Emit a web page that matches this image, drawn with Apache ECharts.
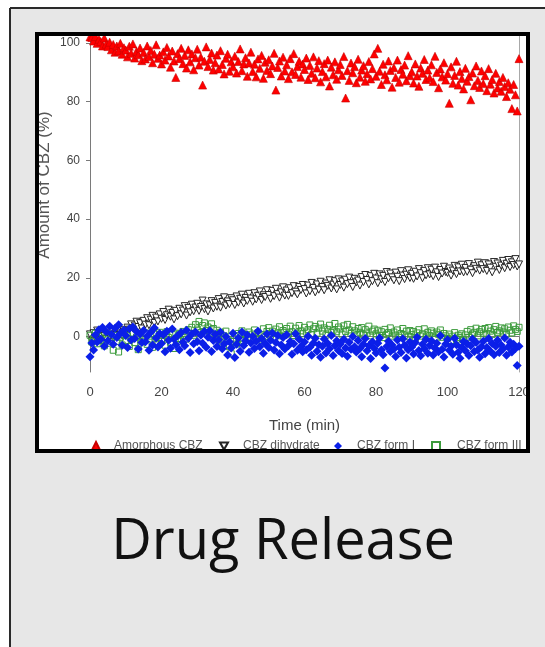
<!DOCTYPE html>
<html><head><meta charset="utf-8">
<script src="https://cdn.jsdelivr.net/npm/echarts@6/dist/echarts.min.js"></script>
<style>html,body{margin:0;padding:0;background:#fff}#c{width:545px;height:647px}</style>
</head><body><div id="c"></div>
<script>
const timeMin = [
0,0.5,1,1.5,2,2.5,3,3.5,4,4.5,
5,5.5,6,6.5,7,7.5,8,8.5,9,9.5,
10,10.5,11,11.5,12,12.5,13,13.5,14,14.5,
15,15.5,16,16.5,17,17.5,18,18.5,19,19.5,
20,20.5,21,21.5,22,22.5,23,23.5,24,24.5,
25,25.5,26,26.5,27,27.5,28,28.5,29,29.5,
30,30.5,31,31.5,32,32.5,33,33.5,34,34.5,
35,35.5,36,36.5,37,37.5,38,38.5,39,39.5,
40,40.5,41,41.5,42,42.5,43,43.5,44,44.5,
45,45.5,46,46.5,47,47.5,48,48.5,49,49.5,
50,50.5,51,51.5,52,52.5,53,53.5,54,54.5,
55,55.5,56,56.5,57,57.5,58,58.5,59,59.5,
60,60.5,61,61.5,62,62.5,63,63.5,64,64.5,
65,65.5,66,66.5,67,67.5,68,68.5,69,69.5,
70,70.5,71,71.5,72,72.5,73,73.5,74,74.5,
75,75.5,76,76.5,77,77.5,78,78.5,79,79.5,
80,80.5,81,81.5,82,82.5,83,83.5,84,84.5,
85,85.5,86,86.5,87,87.5,88,88.5,89,89.5,
90,90.5,91,91.5,92,92.5,93,93.5,94,94.5,
95,95.5,96,96.5,97,97.5,98,98.5,99,99.5,
100,100.5,101,101.5,102,102.5,103,103.5,104,104.5,
105,105.5,106,106.5,107,107.5,108,108.5,109,109.5,
110,110.5,111,111.5,112,112.5,113,113.5,114,114.5,
115,115.5,116,116.5,117,117.5,118,118.5,119,119.5,
120];

const amorphousCBZ = [
102.0,101.8,100.6,102.1,99.8,101.2,100.4,98.9,101.6,99.5,
98.7,100.2,97.6,99.4,96.8,98.9,97.2,99.8,96.1,98.3,
97.5,95.2,98.8,96.4,99.6,94.8,97.1,95.9,98.2,93.9,
96.7,94.5,98.9,95.3,97.4,93.2,96.1,99.3,94.7,95.8,
92.8,96.9,94.1,98.4,95.5,91.7,97.2,93.8,88.2,96.3,
94.6,98.1,92.9,95.7,91.4,97.6,93.5,96.2,90.8,94.9,
97.8,92.4,95.1,85.6,93.7,98.6,91.9,94.3,96.5,90.7,
93.2,95.8,91.1,97.3,92.6,89.4,94.7,96.1,90.3,93.5,
91.8,95.4,89.7,93.6,97.9,90.5,92.8,94.9,88.6,93.1,
96.8,90.2,92.7,88.4,94.5,91.3,95.7,87.9,93.4,90.6,
94.2,89.5,92.1,96.4,83.9,91.6,93.8,88.7,95.1,90.4,
92.5,87.8,94.6,90.1,96.3,89.2,91.9,93.7,88.3,92.8,
90.9,94.8,87.5,92.3,89.6,95.2,88.1,91.4,93.9,86.7,
90.2,92.9,88.4,94.1,85.3,91.7,89.1,93.5,87.6,90.8,
92.6,88.9,95.3,81.2,90.5,87.2,93.1,89.8,91.9,86.4,
94.4,88.3,90.7,92.2,86.9,89.5,93.6,87.7,91.2,96.2,
88.6,98.1,90.3,85.8,92.7,89.1,87.4,93.8,90.6,84.9,
91.5,88.2,94.1,86.6,90.9,89.3,92.4,87.1,95.6,88.8,
90.1,86.3,92.8,88.7,85.2,91.4,89.6,94.3,87.5,90.7,
88.1,92.5,86.8,95.4,89.9,84.7,91.1,88.4,93.2,87.3,
89.5,79.4,91.8,86.2,88.9,93.7,85.6,90.2,87.8,84.3,
91.3,86.9,88.5,80.6,89.7,85.4,92.1,87.2,84.8,90.4,
86.1,88.8,83.7,91.2,85.9,87.5,82.9,89.6,84.6,86.8,
83.5,88.2,85.1,81.7,86.4,84.2,77.6,85.8,82.3,76.8,
94.6];

const cbzDihydrate = [
0.8,-1.5,1.2,-0.4,2.1,0.3,-1.1,1.6,0.2,-0.7,
1.4,0.1,2.3,-0.5,1.8,0.6,2.7,1.1,0.4,2.2,
1.7,3.1,2.4,4.2,2.9,3.8,5.1,3.3,4.6,2.8,
5.4,4.1,6.3,3.9,5.8,7.1,4.7,6.5,5.2,7.6,
6.1,8.4,5.7,7.3,9.2,6.8,8.1,5.9,8.8,7.0,
9.5,7.6,8.9,10.4,7.2,9.8,8.3,10.9,8.7,9.9,
11.2,8.8,10.1,12.3,9.4,11.0,8.6,10.7,12.1,9.6,
11.5,10.2,12.8,9.9,11.8,13.4,10.6,12.0,11.1,13.1,
12.4,10.8,13.7,11.6,12.9,14.3,11.3,13.2,12.2,14.6,
13.0,11.9,14.8,12.7,13.9,15.4,12.5,14.1,13.5,15.8,
14.2,12.9,15.6,13.8,16.3,14.5,13.3,15.1,16.8,14.0,
15.7,13.9,16.5,14.8,17.2,15.3,14.4,16.9,15.9,17.6,
16.2,14.7,17.4,15.5,18.3,16.6,15.1,17.8,16.0,18.7,
16.9,15.8,18.1,17.3,19.2,16.4,17.7,18.9,16.1,19.5,
17.6,18.8,16.7,19.4,17.9,20.1,18.2,16.9,19.7,18.5,
19.1,17.4,20.3,18.6,21.0,19.3,17.8,20.6,18.9,21.4,
19.8,18.2,21.2,19.5,20.7,18.6,22.0,19.9,21.5,20.2,
19.2,21.8,20.4,18.9,22.3,20.8,19.6,21.1,22.6,20.0,
21.4,19.7,22.1,20.5,23.0,21.6,19.9,22.4,20.9,23.3,
21.2,22.8,20.6,23.5,21.9,20.3,22.7,21.5,23.8,22.0,
21.7,23.2,20.8,22.5,24.1,21.3,23.6,22.2,24.5,21.9,
23.4,22.1,24.7,22.8,21.6,24.0,23.1,25.2,22.5,24.3,
23.0,25.0,22.4,24.6,23.5,21.9,25.4,23.8,24.9,22.7,
24.2,25.8,23.3,24.8,26.1,23.7,25.3,24.4,26.4,23.9,
24.6];

const cbzFormI = [
-6.8,-2.1,-4.5,0.6,-1.8,2.4,-0.9,3.1,-3.2,1.7,
-1.4,3.6,0.8,-2.6,2.9,-0.3,4.1,1.2,-2.9,2.3,
0.4,-3.7,2.7,-1.1,3.3,-0.6,1.8,-4.2,0.9,-2.0,
2.1,-1.7,0.2,-4.6,1.5,-2.8,3.0,-0.4,-3.5,1.1,
-2.3,0.7,-5.1,1.9,-1.2,-3.9,2.6,-0.8,-2.7,0.3,
-4.4,1.4,-1.9,-3.1,2.2,-0.5,-5.4,0.9,-2.4,1.6,
-1.6,-4.8,0.5,-2.2,1.8,-3.6,-0.2,2.0,-5.0,-1.3,
0.8,-3.3,-1.0,1.5,-4.1,-2.5,0.1,-6.2,-1.7,-3.8,
1.2,-7.1,-2.6,-0.4,-4.9,1.6,-3.0,-1.4,0.6,-5.3,
-2.1,0.2,-4.0,-1.5,1.9,-3.4,-0.6,-5.6,-2.3,0.9,
-3.7,-1.2,1.3,-4.5,-2.0,0.4,-5.8,-2.8,-0.3,-4.2,
0.7,-3.1,-1.6,-6.0,-2.4,1.0,-4.6,-0.9,-3.3,-5.1,
-1.8,-4.4,0.2,-3.6,-6.3,-2.1,-0.5,-4.9,-2.7,-7.0,
-3.2,-0.8,-5.5,-2.3,-4.1,0.4,-6.4,-3.0,-1.4,-4.7,
-2.5,-5.7,-0.9,-3.8,-6.6,-1.9,-4.3,0.1,-3.4,-5.2,
-1.3,-4.0,-6.8,-2.6,-0.6,-4.8,-3.1,-7.4,-1.7,-3.9,
-5.5,-2.2,-0.4,-4.5,-6.1,-10.6,-3.3,-1.5,-5.0,-2.8,
-4.2,-6.7,-1.1,-3.6,-5.4,-0.7,-2.9,-7.2,-4.4,-1.8,
-3.5,-5.9,-2.0,-0.2,-4.7,-6.5,-2.6,-4.1,-0.9,-5.6,
-3.0,-1.4,-6.2,-3.9,-2.2,-5.1,0.3,-4.3,-6.9,-2.5,
-1.0,-4.6,-3.2,-6.0,-0.5,-2.7,-5.3,-7.3,-3.6,-1.6,
-4.8,-2.4,-6.4,-3.1,-0.8,-5.0,-2.0,-4.5,-7.0,-3.4,
-1.5,-5.8,-3.7,-0.6,-4.9,-2.3,-6.1,-3.2,-1.2,-5.4,
-2.8,-4.2,-0.4,-6.3,-3.5,-1.9,-5.2,-2.6,-4.0,-9.8,
-3.2];

const cbzFormIII = [
0.5,-1.8,-0.6,1.2,-2.4,0.1,-1.3,0.8,-3.1,-0.4,
1.0,-2.2,-0.9,-4.6,0.4,-1.6,-5.2,-0.2,-2.8,0.7,
-1.4,0.3,-3.3,-0.8,1.1,-2.0,-0.1,-4.4,0.6,-1.7,
-0.5,1.3,-2.6,-1.1,0.2,-3.6,0.9,-0.7,-2.3,1.5,
-1.0,0.4,-2.9,1.7,-0.3,-1.9,0.8,-4.0,1.2,-0.6,
0.9,-1.5,1.8,0.2,-0.8,2.4,1.1,3.2,0.5,4.1,
2.6,5.2,1.4,3.8,4.7,2.1,3.3,1.6,4.4,2.8,
0.7,2.2,-0.9,1.5,-2.1,0.3,1.9,-1.2,-3.4,-5.8,
-1.6,0.4,-2.5,1.1,-0.5,2.0,-1.3,0.8,-0.2,1.6,
-0.8,0.9,2.3,-0.4,1.4,-1.1,0.6,2.7,0.1,1.8,
3.1,0.5,1.9,-0.6,2.6,1.2,3.4,0.3,2.1,1.5,
2.8,0.9,3.6,1.7,0.4,2.9,1.3,3.8,2.0,1.0,
3.2,1.6,2.4,4.0,0.8,2.7,3.5,1.2,2.9,4.3,
1.9,3.0,0.6,2.5,3.9,1.4,2.2,4.5,1.7,3.3,
2.6,0.9,3.7,1.8,4.2,2.3,1.1,3.4,2.0,0.5,
2.8,1.5,3.1,0.7,2.4,1.2,3.6,0.3,1.9,2.6,
1.0,2.2,0.4,1.7,-0.3,2.5,0.8,1.4,3.0,0.2,
1.6,0.6,2.3,-0.2,1.1,2.8,0.5,1.9,0.0,2.1,
0.7,1.8,-0.5,1.3,2.4,0.2,1.0,2.7,-0.1,1.5,
0.4,2.0,1.2,-0.4,1.6,0.8,2.3,-0.2,1.1,0.3,
-0.6,0.9,-1.3,0.2,1.4,-0.9,0.5,-0.3,1.0,-1.1,
0.6,1.8,-0.2,2.4,0.9,1.5,2.9,0.3,1.7,2.5,
1.2,2.8,0.6,3.1,1.9,0.8,2.4,3.5,1.4,2.0,
3.0,1.6,2.7,0.9,3.3,2.2,1.3,3.7,2.5,1.8,
3.2];

const yTickValues = [0, 20, 40, 60, 80, 100];
const seriesNames = ['Amorphous CBZ', 'CBZ dihydrate', 'CBZ form I', 'CBZ form III'];
const xTitle = 'Time (min)';
const yTitle = 'Amount of CBZ (%)';
const cardTitle = 'Drug Release';

const pairs = vals => timeMin.map((t, i) => [t, vals[i]]);
const downTri = 'path://M0,0L10,0L5,9Z';
const axisFont = 'Liberation Sans, Arial, sans-serif';

const chart = echarts.init(document.getElementById('c'));

function legendFor(name, icon, left, pad) {
  return {
    data: [{ name: name, icon: icon }],
    left: left, top: 440,
    itemWidth: 8, itemHeight: 8,
    padding: 0,
    selectedMode: false,
    textStyle: { fontSize: 12, color: '#555', fontFamily: axisFont, padding: [0, 0, 0, pad] }
  };
}

chart.setOption({
  backgroundColor: '#ffffff',
  animation: false,
  graphic: [
    { type: 'rect', z: -10, shape: { x: 10, y: 8, width: 540, height: 645 }, style: { fill: '#e7e7e7' } },
    { type: 'line', z: -9, shape: { x1: 10, y1: 8, x2: 545, y2: 8 }, style: { stroke: '#2a2a2a', lineWidth: 2 } },
    { type: 'line', z: -9, shape: { x1: 10, y1: 8, x2: 10, y2: 647 }, style: { stroke: '#2a2a2a', lineWidth: 2 } },
    { type: 'rect', z: -8, shape: { x: 37, y: 34, width: 491, height: 417 }, style: { fill: '#ffffff' } },
    { type: 'text', z: 5, x: 44, y: 185, rotation: Math.PI / 2,
      style: { text: yTitle, fontSize: 17, fontFamily: axisFont, fill: '#555', align: 'center', verticalAlign: 'middle' } },
    { type: 'rect', z: 100, shape: { x: 37, y: 34, width: 491, height: 417 }, style: { fill: null, stroke: '#000', lineWidth: 4 } },
    { type: 'text', z: 5, x: 283, y: 543,
      style: { text: cardTitle, fontSize: 56, fontFamily: 'Open Sans, sans-serif', fill: '#111', align: 'center', verticalAlign: 'middle' } }
  ],
  legend: [
    legendFor(seriesNames[0], 'triangle', 91, 9),
    legendFor(seriesNames[1], downTri, 219, 10),
    legendFor(seriesNames[2], 'diamond', 334, 10),
    legendFor(seriesNames[3], 'rect', 431, 12)
  ],
  grid: { left: 90, right: 26, top: 36, bottom: 275 },
  xAxis: {
    type: 'value', min: 0, max: 120, interval: 20,
    name: xTitle, nameLocation: 'middle', nameGap: 46,
    nameTextStyle: { fontSize: 15, color: '#444', fontFamily: axisFont },
    axisLine: { lineStyle: { color: '#7a7a7a', width: 1 } },
    axisTick: { show: true, inside: false, length: 5, lineStyle: { color: '#7a7a7a' } },
    axisLabel: { fontSize: 13, color: '#444', fontFamily: axisFont, margin: 14 },
    splitLine: { show: false }
  },
  yAxis: [{
    type: 'value', min: -12, max: 102.3,
    axisLine: { show: true, lineStyle: { color: '#7a7a7a', width: 1 } },
    axisTick: { show: true, length: 4, customValues: yTickValues, lineStyle: { color: '#7a7a7a' } },
    axisLabel: { fontSize: 12, color: '#444', fontFamily: axisFont, margin: 10, customValues: yTickValues },
    splitLine: { show: false }
  }, {
    type: 'value', min: -12, max: 102.3, position: 'right',
    axisLine: { show: true, lineStyle: { color: '#a8a8a8', width: 1 } },
    axisTick: { show: false }, axisLabel: { show: false }, splitLine: { show: false }
  }],
  series: [
    { name: seriesNames[0], type: 'scatter', symbol: 'triangle', symbolSize: 8,
      itemStyle: { color: '#ff0000', borderColor: '#c80000', borderWidth: 0.6, opacity: 1 },
      data: pairs(amorphousCBZ) },
    { name: seriesNames[1], type: 'scatter', symbol: downTri, symbolSize: 7,
      itemStyle: { color: '#ffffff', borderColor: '#262626', borderWidth: 1, opacity: 1 },
      data: pairs(cbzDihydrate) },
    { name: seriesNames[3], type: 'scatter', symbol: 'rect', symbolSize: 6,
      itemStyle: { color: 'rgba(255,255,255,0)', borderColor: '#3c9b3c', borderWidth: 1, opacity: 1 },
      data: pairs(cbzFormIII) },
    { name: seriesNames[2], type: 'scatter', symbol: 'diamond', symbolSize: 9,
      itemStyle: { color: '#0b1fe8', opacity: 1 },
      data: pairs(cbzFormI) }
  ]
});
</script>
</body></html>
